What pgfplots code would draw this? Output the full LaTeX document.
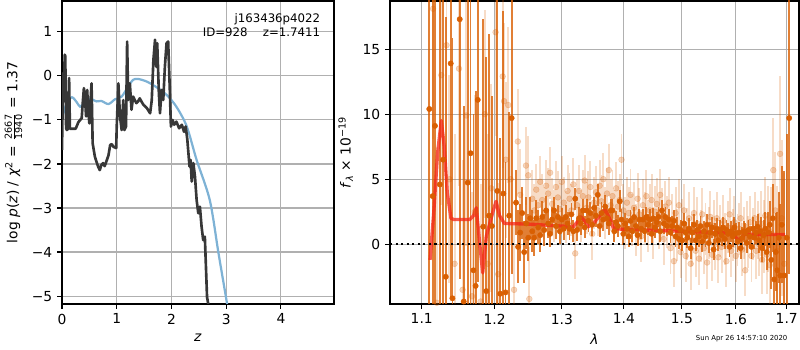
\documentclass[border=0pt]{standalone}
\usepackage{fontspec}
\setmainfont{DejaVu Sans}
\usepackage{pgfplots}
\pgfplotsset{compat=1.18}
\definecolor{darkor}{RGB}{217,95,2}
\definecolor{pzblue}{RGB}{126,178,213}
\definecolor{pzblack}{RGB}{55,55,55}
\definecolor{gridgrey}{RGB}{176,176,176}
\definecolor{modred}{RGB}{245,35,20}
\pgfplotsset{
 mystyle/.style={
  scale only axis,
  axis line style={line width=0.8bp},
  grid=major,
  major grid style={gridgrey, line width=0.8bp},
  tick align=outside,
  tick pos=left,
  major tick length=3.5bp,
  tick style={black, line width=0.8bp},
  /pgf/number format/assume math mode=true,
  tick label style={font=\fontsize{10}{12}\selectfont},
  label style={font=\fontsize{10}{12}\selectfont},
 }
}
\begin{document}
\begin{tikzpicture}
\path[use as bounding box] (0,0) rectangle (576bp,252bp);
% ---------------- left panel ----------------
\begin{axis}[mystyle, at={(44.64bp,33.12bp)}, anchor=south west,
  width=195.84bp, height=218.16bp,
  xmin=0, xmax=4.97, ymin=-5.18, ymax=1.70,
  xtick={0,1,2,3,4}, ytick={-5,-4,-3,-2,-1,0,1},
  yticklabels={−5,−4,−3,−2,−1,0,1},
  xlabel={\textit{z}},
  ylabel={log \textit{p}(\textit{z}) / \textit{χ}\textsuperscript{2} = $\frac{\mbox{\scriptsize 2667}}{\mbox{\scriptsize 1940}}$ = 1.37}]
\addplot[pzblue, line width=1.6bp, smooth] coordinates {
(0,-0.96) (0.085,-0.62) (0.18,-0.485) (0.27,-0.6) (0.33,-0.70) (0.40,-0.62)
(0.51,-0.52) (0.63,-0.58) (0.72,-0.57) (0.85,-0.64) (0.97,-0.53) (1.09,-0.47)
(1.21,-0.24) (1.30,-0.09) (1.39,-0.07) (1.55,-0.13) (1.73,-0.26) (1.91,-0.43)
(2.09,-0.70) (2.28,-1.15) (2.46,-1.91) (2.70,-2.82) (2.86,-4.03) (3.01,-5.13) (3.04,-5.4)};
\addplot[pzblack, line width=1.9bp, line join=round] coordinates {
(0,-1.68) (0.02,0.06) (0.035,-0.3) (0.05,0.48) (0.06,0.45) (0.075,-1.19) (0.09,-1.23)
(0.11,-1.2) (0.13,-0.05) (0.145,-1.2) (0.18,-1.2) (0.25,-1.2) (0.30,-1.05) (0.36,-0.96)
(0.38,-0.6) (0.40,-0.28) (0.42,-0.5) (0.44,-0.92) (0.46,-0.32) (0.48,-0.8) (0.50,-1.08)
(0.52,-0.6) (0.54,-0.17) (0.56,-1.53) (0.60,-1.83) (0.63,-1.95) (0.66,-2.06) (0.69,-2.14)
(0.72,-2.02) (0.75,-1.98) (0.78,-2.05) (0.82,-1.91) (0.85,-1.80) (0.88,-1.57) (0.91,-1.55)
(0.94,-1.61) (0.99,-1.64) (1.00,-1.15) (1.03,-0.17) (1.06,-0.92) (1.09,-1.23) (1.12,-0.55)
(1.14,-1.23) (1.17,-1.15) (1.19,0.78) (1.21,-0.55) (1.24,-0.17) (1.27,-0.77) (1.30,-0.47)
(1.33,-0.55) (1.36,-0.62) (1.39,-0.58) (1.42,-0.51) (1.46,-0.6) (1.49,-0.66) (1.55,-0.73)
(1.61,-0.85) (1.64,-0.55) (1.67,0.36) (1.70,0.82) (1.72,0.21) (1.74,0.74) (1.77,-0.39)
(1.79,-0.85) (1.82,-0.32) (1.85,-0.55) (1.88,0.21) (1.91,0.74) (1.94,0.78) (1.97,-0.32)
(1.99,-1.15) (2.02,-1.00) (2.05,-1.11) (2.09,-1.04) (2.14,-1.19) (2.19,-1.11) (2.23,-1.27)
(2.26,-1.15) (2.29,-1.45) (2.33,-2.06) (2.35,-1.91) (2.37,-2.40) (2.40,-1.98) (2.43,-2.29)
(2.46,-2.82) (2.49,-3.12) (2.52,-2.97) (2.55,-3.42) (2.58,-3.73) (2.61,-3.65) (2.63,-4.33)
(2.65,-5.02) (2.68,-5.24)};
\node[anchor=north east, inner sep=0pt, align=right, font=\fontsize{8.5}{10.5}\selectfont]
  at (rel axis cs:0.95,0.96) {j163436p4022\\ID=928\hspace{11bp}z=1.7411};
\end{axis}
% ---------------- right panel ----------------
\begin{axis}[mystyle, at={(280.8bp,33.12bp)}, anchor=south west,
  width=294.48bp, height=218.16bp,
  xmode=log, xmin=1.0592, xmax=1.725, ymin=-4.59, ymax=18.7,
  xtick={1.1,1.2,1.3,1.4,1.5,1.6,1.7},
  xticklabels={1.1,1.2,1.3,1.4,1.5,1.6,1.7},
  xminorticks=false,
  ytick={0,5,10,15}, yticklabels={0,5,10,15},
  xlabel={\textit{λ}},
  ylabel={\textit{f}\textsubscript{\textit{λ}} × 10\textsuperscript{−19}}]
% light series
\addplot[only marks, mark=*, mark size=2.1bp, color=darkor,
  mark options={draw opacity=0.25, fill opacity=0.25},
  error bars/.cd, y dir=both, y explicit, error mark=none,
  error bar style={line width=1.4bp, draw opacity=0.22}]
 table[x index=0, y index=1, y error index=2] {
1.115 18.1 10
1.120 -4.5 12
1.126 13.0 10
1.133 15.3 10
1.137 5.0 8
1.144 -1.5 10
1.150 13.5 9
1.155 -3.5 10
1.160 9.9 10
1.168 -4.0 8
1.172 2.5 9
1.180 -4.4 9
1.186 10.0 8
1.190 -1.5 10
1.195 4.3 8
1.2013 16.3 8
1.205 -2.3 7
1.2115 12.9 7
1.2135 11.0 6
1.216 6.5 6
1.2195 10.7 6
1.223 5.0 5
1.228 -3.5 5
1.2335 7.9 4
1.237 3.8 3.5
1.2456 6.05 3
1.249 5.3 3
1.2506 -4.2 4
1.255 3.5 2.2
1.258 2.6 2.0
1.261 4.2 2.0
1.264 3.0 2.0
1.267 4.8 2.0
1.270 3.4 2.0
1.273 2.4 2.0
1.276 4.5 2.0
1.279 3.9 2.0
1.282 5.5 2.0
1.285 3.1 2.0
1.288 2.2 2.0
1.291 4.4 2.0
1.294 3.6 2.0
1.297 2.7 2.0
1.300 4.8 2.0
1.303 3.2 2.0
1.306 2.1 2.0
1.309 4.1 2.0
1.312 3.5 2.0
1.315 2.6 2.0
1.318 4.6 2.0
1.321 -0.7 2.0
1.324 3.0 2.0
1.327 4.1 2.0
1.330 2.2 2.0
1.333 3.7 2.0
1.336 4.9 2.0
1.339 2.8 2.0
1.342 3.6 2.0
1.345 4.4 2.0
1.348 0.8 2.0
1.351 3.2 2.0
1.354 4.0 2.0
1.357 2.6 2.0
1.360 4.5 2.0
1.363 3.3 2.0
1.366 5.0 2.0
1.369 2.4 2.0
1.372 3.9 2.0
1.375 5.7 2.0
1.378 3.0 2.0
1.381 3.7 2.0
1.384 2.2 2.0
1.387 4.3 2.0
1.390 2.9 2.0
1.393 3.4 2.0
1.396 6.5 2.0
1.399 2.6 2.0
1.402 1.6 2.0
1.405 3.2 2.0
1.408 2.4 2.0
1.411 3.8 2.0
1.414 1.9 2.0
1.417 2.8 2.0
1.420 1.1 2.0
1.423 3.5 2.0
1.426 2.3 2.0
1.429 0.6 2.0
1.432 3.0 2.0
1.435 2.0 2.0
1.438 3.7 2.0
1.441 1.4 2.0
1.444 2.6 2.0
1.447 3.4 2.0
1.450 0.9 2.0
1.453 2.5 2.0
1.456 3.1 2.0
1.459 1.6 2.0
1.462 3.8 2.0
1.465 2.3 2.0
1.468 0.4 2.0
1.471 2.9 2.0
1.474 1.7 2.0
1.477 3.2 2.0
1.480 -0.3 2.0
1.483 1.9 2.0
1.486 -1.3 2.0
1.489 2.4 2.0
1.492 0.7 2.0
1.495 3.0 2.0
1.498 -0.6 2.0
1.501 1.5 2.0
1.504 2.6 2.0
1.507 -0.9 2.0
1.510 0.8 2.0
1.513 2.0 2.0
1.516 -1.5 2.0
1.519 0.3 2.0
1.522 2.4 2.0
1.525 -0.5 2.0
1.528 1.6 2.0
1.531 -1.1 2.0
1.534 0.6 2.0
1.537 2.3 2.0
1.540 -0.3 2.0
1.543 1.2 2.0
1.546 -1.4 2.0
1.549 0.9 2.0
1.552 2.1 2.0
1.555 -0.8 2.0
1.558 1.4 2.0
1.561 0.0 2.0
1.564 2.0 2.0
1.567 -1.0 2.0
1.570 1.0 2.0
1.573 -0.2 2.0
1.576 1.8 2.0
1.579 0.4 2.0
1.582 -1.3 2.0
1.585 1.3 2.0
1.588 2.3 2.0
1.591 -0.5 2.0
1.594 0.7 2.0
1.597 1.7 2.0
1.600 -0.9 2.0
1.603 0.3 2.0
1.606 1.2 2.0
1.609 2.0 2.0
1.612 -0.4 2.0
1.615 0.9 2.0
1.618 -2.0 2.0
1.621 1.3 2.0
1.624 0.2 2.0
1.627 1.7 2.0
1.630 -0.9 2.0
1.633 0.8 2.0
1.636 2.0 2.0
1.639 -0.5 2.2
1.642 1.1 2.2
1.645 0.0 2.4
1.648 1.6 2.5
1.651 -1.2 2.6
1.654 0.6 2.8
1.657 2.2 3.0
1.660 -0.8 3.0
1.663 1.2 3.3
1.666 -1.6 3.5
1.669 0.9 3.5
1.673 5.7 4.0
1.677 2.6 4.5
1.680 -0.5 5.0
1.6866 6.95 6.0
1.690 2.0 6.0
1.695 -1.5 7.0
};
% dark series
\addplot[only marks, mark=*, mark size=1.9bp, color=darkor,
  error bars/.cd, y dir=both, y explicit, error mark=none,
  error bar style={line width=1.3bp, draw opacity=0.8}]
 table[x index=0, y index=1, y error index=2] {
1.110 10.4 15
1.1145 3.7 20
1.1175 9.1 18
1.124 4.6 25
1.1285 6.5 22
1.132 -2.5 20
1.1387 13.9 18
1.141 -4.15 20
1.151 17.3 20
1.1565 -4.4 15
1.162 4.74 20
1.166 7.0 15
1.170 -2.0 12
1.173 -3.2 15
1.176 11.1 14
1.1836 1.35 16
1.188 -3.6 18
1.192 2.2 14
1.196 1.4 10
1.2037 4.1 18
1.208 -3.8 12
1.2125 3.9 14
1.2156 -3.7 10
1.221 2.2 8
1.2245 9.7 12
1.231 3.2 2.5
1.234 -0.2 2.8
1.237 0.9 2.2
1.240 2.4 2.0
1.243 -0.6 2.4
1.246 1.6 2.0
1.249 0.5 1.8
1.252 2.0 1.6
1.255 1.0 1.6
1.258 0.5 1.4
1.261 2.0 1.4
1.264 1.3 1.3
1.267 0.7 1.3
1.270 2.1 1.2
1.273 1.1 1.2
1.276 2.6 1.1
1.279 1.6 1.1
1.282 0.8 1.0
1.285 1.9 1.0
1.288 2.6 1.0
1.291 1.4 1.0
1.294 2.1 0.95
1.297 1.0 0.95
1.300 1.9 0.9
1.303 1.2 0.9
1.306 2.1 0.9
1.309 1.6 0.85
1.312 1.2 0.85
1.315 2.3 0.85
1.318 1.0 0.85
1.321 3.5 0.85
1.324 1.1 0.85
1.327 2.0 0.85
1.330 1.6 0.85
1.333 2.6 0.85
1.336 1.3 0.85
1.339 2.6 0.85
1.342 1.8 0.85
1.345 2.4 0.85
1.348 1.5 0.85
1.351 2.8 0.85
1.354 2.2 0.85
1.357 3.8 0.85
1.360 1.4 0.85
1.363 2.4 0.85
1.366 1.9 0.85
1.369 2.9 0.85
1.372 2.0 0.85
1.375 1.6 0.85
1.378 2.6 0.85
1.381 2.6 0.85
1.384 1.0 0.85
1.387 1.7 0.85
1.390 1.4 0.85
1.393 3.3 0.85
1.396 1.9 0.85
1.399 0.8 0.85
1.402 1.6 0.8
1.405 1.2 0.8
1.408 0.6 0.8
1.411 1.8 0.8
1.414 1.0 0.8
1.417 2.1 0.8
1.420 1.4 0.8
1.423 0.7 0.8
1.426 1.9 0.8
1.429 1.2 0.8
1.432 1.9 0.8
1.435 1.0 0.8
1.438 2.1 0.8
1.441 1.5 0.8
1.444 1.9 0.8
1.447 0.8 0.8
1.450 2.0 0.8
1.453 1.3 0.8
1.456 1.7 0.8
1.459 2.1 0.8
1.462 1.0 0.8
1.465 2.6 0.8
1.468 1.6 0.8
1.471 2.1 0.8
1.474 1.4 0.8
1.477 1.9 0.8
1.480 0.9 0.8
1.483 1.4 0.8
1.486 1.8 0.8
1.489 0.6 0.8
1.492 1.3 0.8
1.495 0.4 0.8
1.498 1.1 0.8
1.501 0.3 0.8
1.504 1.6 0.8
1.507 0.9 0.8
1.510 0.5 0.8
1.513 1.2 0.8
1.516 -0.3 0.8
1.519 0.9 0.8
1.522 1.5 0.8
1.525 0.3 0.8
1.528 1.1 0.8
1.531 0.6 0.8
1.534 1.4 0.8
1.537 0.2 0.8
1.540 1.0 0.8
1.543 0.6 0.8
1.546 1.5 0.8
1.549 0.1 0.8
1.552 0.9 0.8
1.555 1.3 0.8
1.558 -0.4 0.8
1.561 0.8 0.8
1.564 1.2 0.8
1.567 0.3 0.8
1.570 1.1 0.8
1.573 0.7 0.8
1.576 1.3 0.8
1.579 0.4 0.8
1.582 1.1 0.8
1.585 0.8 0.8
1.588 -0.2 0.8
1.591 1.0 0.8
1.594 0.6 0.8
1.597 1.3 0.8
1.600 0.85 0.8
1.603 0.2 0.8
1.606 0.9 0.8
1.609 -0.3 0.8
1.612 0.5 0.8
1.615 1.0 0.8
1.618 0.85 0.8
1.621 0.1 0.8
1.624 1.1 0.8
1.627 0.6 0.8
1.630 -0.2 0.9
1.633 1.2 0.9
1.636 0.5 0.9
1.639 0.9 0.9
1.642 1.35 1.0
1.645 0.3 1.0
1.648 1.0 1.1
1.651 -0.3 1.1
1.654 0.7 1.2
1.657 1.2 1.3
1.660 -0.6 1.4
1.663 0.9 1.6
1.666 1.5 1.8
1.669 -1.2 2.2
1.672 2.0 2.6
1.675 -2.7 3.5
1.678 -0.6 3.0
1.681 -2.0 4.5
1.684 0.5 3.5
1.687 -2.4 5.5
1.690 1.5 4.5
1.695 -2.4 8.0
1.700 0.5 8.0
1.705 9.7 12.0
};
% model
\addplot[modred, line width=2.4bp, opacity=0.75, line join=round] coordinates {
(1.111,-1.2) (1.116,2.5) (1.121,7.0) (1.126,9.5) (1.130,7.5) (1.134,4.0) (1.139,2.0)
(1.143,1.9) (1.165,1.9) (1.170,2.2) (1.174,2.8) (1.178,0.5) (1.183,-2.2) (1.188,0.6)
(1.193,1.6) (1.198,2.6) (1.202,3.3) (1.207,2.2) (1.214,1.6) (1.25,1.55) (1.30,1.4)
(1.318,1.35) (1.324,1.7) (1.330,2.1) (1.336,1.8) (1.342,1.35) (1.350,1.6) (1.360,2.2)
(1.369,2.65) (1.376,2.0) (1.383,1.2) (1.40,1.15) (1.4675,1.05) (1.53,0.95) (1.585,0.87)
(1.595,0.75) (1.6045,0.31) (1.611,0.5) (1.617,0.77) (1.6965,0.75)};
% zero line
\addplot[black, line width=1.5bp, dash pattern=on 1.5bp off 2.5bp] coordinates {(1.0592,0) (1.725,0)};
\end{axis}
\node[font=\fontsize{5}{6}\selectfont] at (534bp,8bp) {Sun Apr 26 14:57:10 2020};
\end{tikzpicture}
\end{document}
